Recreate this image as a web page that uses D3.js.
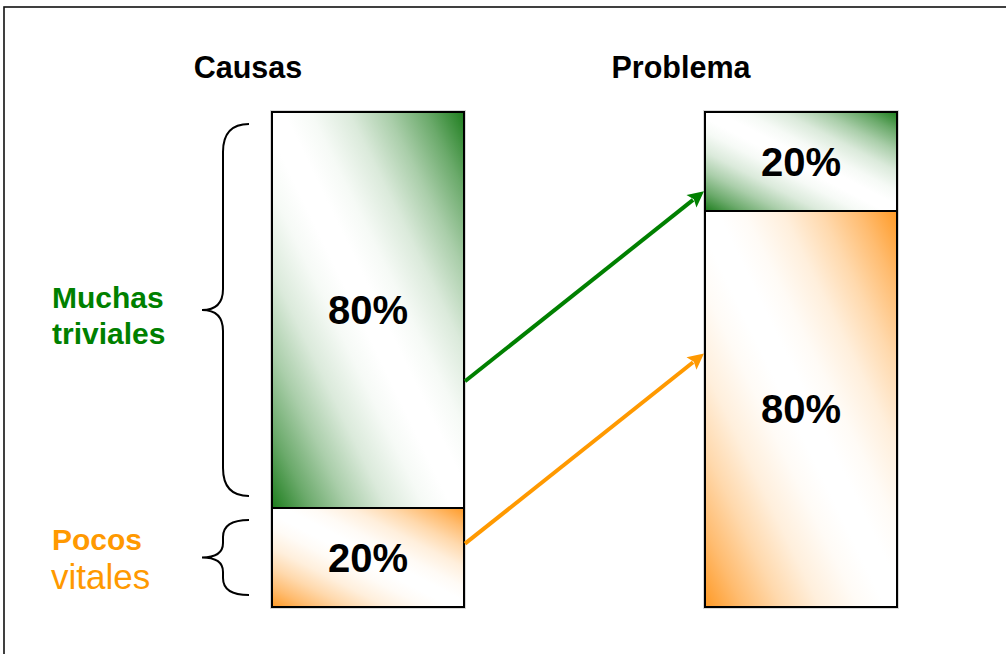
<!DOCTYPE html>
<html>
<head>
<meta charset="utf-8">
<script src="https://cdn.jsdelivr.net/npm/d3@7"></script>
<style>
  html, body { margin: 0; padding: 0; background: #fff; }
  svg { display: block; }
  text { font-family: Arial, "Liberation Sans", sans-serif; }
</style>
</head>
<body>
<div id="chart"></div>
<script>
// Pareto 80/20 principle: causes vs. problem share
const columns = ["Causas", "Problema"];
const groups = ["Muchas triviales", "Pocos vitales"];
const causasShare = [80, 20];     // % of causes per group
const problemaShare = [20, 80];   // % of the problem per group
const groupLabelLines = [["Muchas", "triviales"], ["Pocos", "vitales"]];

const W = 1006, H = 654;
const green = "#008000", orange = "#FF9900";
const gradEnd = ["#1E7E1E", "#FF9A26"];
const lineColor = [green, orange];

const svg = d3.select("#chart").append("svg")
  .attr("width", W).attr("height", H);

// gradients: coloured corners fading into a soft white diagonal band
const defs = svg.append("defs");
const rampStops = [[0, 1], [0.1, 0.66], [0.2, 0.38], [0.3, 0.16], [0.4, 0.04], [0.47, 0],
                   [0.53, 0], [0.6, 0.04], [0.7, 0.16], [0.8, 0.38], [0.9, 0.66], [1, 1]];
groups.forEach((g, i) => {
  const lg = defs.append("linearGradient")
    .attr("id", "grad" + i)
    .attr("x1", 0).attr("y1", 1).attr("x2", 1).attr("y2", 0);
  const mix = d3.interpolateRgb("#ffffff", gradEnd[i]);
  rampStops.forEach(([o, k]) => {
    lg.append("stop").attr("offset", o).attr("stop-color", mix(k));
  });
});

// outer frame
svg.append("rect")
  .attr("x", 4).attr("y", 7).attr("width", W + 20).attr("height", H + 20)
  .attr("fill", "none").attr("stroke", "#111").attr("stroke-width", 1.6);

const x = d3.scaleBand().domain(columns).range([272, 897]).paddingInner(0.5566).paddingOuter(0);
const y = d3.scaleLinear().domain([0, 100]).range([112, 607]);

const shares = [causasShare, problemaShare];
const segments = [];
columns.forEach((c, ci) => {
  let acc = 0;
  shares[ci].forEach((v, gi) => {
    segments.push({ column: c, group: gi, value: v, y0: acc, y1: acc + v });
    acc += v;
  });
});

// column titles
svg.selectAll("text.title").data(columns).join("text")
  .attr("class", "title")
  .attr("x", d => x(d) + x.bandwidth() / 2 - 120)
  .attr("y", 78)
  .attr("text-anchor", "middle")
  .attr("font-size", 30.5).attr("font-weight", "bold").attr("fill", "#000")
  .text(d => d);

// faint shadow edge around each column
columns.forEach(c => {
  svg.append("rect")
    .attr("x", x(c) - 1.5).attr("y", y(0) - 1.5)
    .attr("width", x.bandwidth() + 3).attr("height", y(100) - y(0) + 3)
    .attr("fill", "none").attr("stroke", "#d8d8d8").attr("stroke-width", 1);
});

// stacked segments
svg.selectAll("rect.seg").data(segments).join("rect")
  .attr("class", "seg")
  .attr("x", d => x(d.column))
  .attr("y", d => y(d.y0))
  .attr("width", x.bandwidth())
  .attr("height", d => y(d.y1) - y(d.y0))
  .attr("fill", d => `url(#grad${d.group})`)
  .attr("stroke", "#000").attr("stroke-width", 2);

// value labels
svg.selectAll("text.val").data(segments).join("text")
  .attr("class", "val")
  .attr("x", d => x(d.column) + x.bandwidth() / 2)
  .attr("y", d => (y(d.y0) + y(d.y1)) / 2 + 14)
  .attr("text-anchor", "middle")
  .attr("font-size", 40).attr("font-weight", "bold").attr("fill", "#000")
  .text(d => d.value + "%");

// curly braces beside the causes column
function bracePath(xe, top, bottom) {
  const xv = xe - 26, xt = xe - 47;
  const mid = (top + bottom) / 2;
  const r = Math.min(28, (mid - top) / 2.2);
  const rt = Math.min(21, (mid - top) / 2.6);
  return `M${xe},${top} Q${xv},${top} ${xv},${top + r} L${xv},${mid - rt} ` +
         `Q${xv},${mid} ${xt},${mid} Q${xv},${mid} ${xv},${mid + rt} ` +
         `L${xv},${bottom - r} Q${xv},${bottom} ${xe},${bottom}`;
}
const causeSegs = segments.filter(d => d.column === columns[0]);
const pad = 12;
const braceX = x(columns[0]) - 23;
causeSegs.forEach(d => {
  const top = y(d.y0) + pad, bottom = y(d.y1) - pad;
  const mid = (top + bottom) / 2;
  svg.append("path")
    .attr("d", bracePath(braceX, top, bottom))
    .attr("fill", "none").attr("stroke", "#000").attr("stroke-width", 2);

  const lines = groupLabelLines[d.group];
  const t = svg.append("g").attr("fill", lineColor[d.group]);
  if (d.group === 0) {
    t.append("text").attr("x", 52).attr("y", mid - 2)
      .attr("font-size", 30).attr("font-weight", "bold").text(lines[0]);
    t.append("text").attr("x", 52).attr("y", mid + 34)
      .attr("font-size", 30).attr("font-weight", "bold").text(lines[1]);
  } else {
    t.append("text").attr("x", 52).attr("y", mid - 8)
      .attr("font-size", 30).attr("font-weight", "bold").text(lines[0]);
    t.append("text").attr("x", 51).attr("y", mid + 31)
      .attr("font-size", 35).text(lines[1]);
  }
});

// arrows from each cause group to its share of the problem
const fromFrac = [0.68, 0.36], toFrac = [0.8, 0.36];
function drawArrow(x1, y1, x2, y2, color) {
  const a = Math.atan2(y2 - y1, x2 - x1);
  const L = 16, hw = 8;
  const bx = x2 - L * Math.cos(a), by = y2 - L * Math.sin(a);
  svg.append("line")
    .attr("x1", x1).attr("y1", y1).attr("x2", bx + 2 * Math.cos(a)).attr("y2", by + 2 * Math.sin(a))
    .attr("stroke", color).attr("stroke-width", 4);
  svg.append("path")
    .attr("d", `M${x2},${y2} L${bx - hw * Math.sin(a)},${by + hw * Math.cos(a)} ` +
               `L${bx + 3 * Math.cos(a)},${by + 3 * Math.sin(a)} ` +
               `L${bx + hw * Math.sin(a)},${by - hw * Math.cos(a)} Z`)
    .attr("fill", color);
}
groups.forEach((g, gi) => {
  const s = segments.find(d => d.column === columns[0] && d.group === gi);
  const e = segments.find(d => d.column === columns[1] && d.group === gi);
  const x1 = x(columns[0]) + x.bandwidth() + 1;
  const y1 = y(s.y0 + (s.y1 - s.y0) * fromFrac[gi]);
  const x2 = x(columns[1]) - 1;
  const y2 = y(e.y0 + (e.y1 - e.y0) * toFrac[gi]);
  drawArrow(x1, y1, x2, y2, lineColor[gi]);
});
</script>
</body>
</html>
